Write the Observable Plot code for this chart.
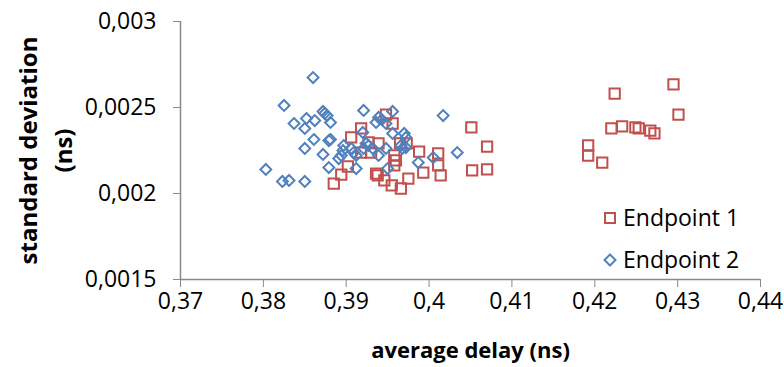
<!DOCTYPE html>
<html><head><meta charset="utf-8">
<script src="https://cdn.jsdelivr.net/npm/d3@7"></script>
<script src="https://cdn.jsdelivr.net/npm/@observablehq/plot@0.6"></script>
<style>
body{margin:0;background:#fff;}
#wrap{position:relative;width:784px;height:367px;font-family:"Open Sans",sans-serif;}
.leg{position:absolute;left:603px;height:30px;line-height:30px;font-size:23px;color:#000;white-space:nowrap;}
.leg svg{vertical-align:middle;margin-right:6px;position:relative;top:-2px;}
</style></head><body><div id="wrap"></div>
<script>
const seriesNames = ["Endpoint 1", "Endpoint 2"];
const ep1X = [0.3885,0.3894,0.3902,0.3906,0.3918,0.3927,0.3939,0.3918,0.3930,0.3948,0.3956,0.3965,0.3973,0.3958,0.3960,0.3958,0.3988,0.4011,0.3936,0.3938,0.3946,0.3955,0.3966,0.3975,0.3993,0.4014,0.4011,0.4051,0.4070,0.4052,0.4070,0.4192,0.4192,0.4209,0.4220,0.4224,0.4233,0.4249,0.4253,0.4267,0.4272,0.4295,0.4301];
const ep1Y = [0.002058,0.00211,0.002157,0.002326,0.002378,0.002297,0.002291,0.002238,0.002238,0.002459,0.002407,0.002291,0.002291,0.002221,0.002192,0.002163,0.002244,0.002233,0.002116,0.002105,0.002076,0.002047,0.002029,0.002087,0.002122,0.002105,0.002163,0.002384,0.002273,0.002134,0.00214,0.002279,0.002221,0.00218,0.002378,0.002581,0.00239,0.002384,0.002378,0.002366,0.002349,0.002634,0.002459];
const ep2X = [0.3803,0.3823,0.3831,0.3850,0.3825,0.3860,0.3837,0.3850,0.3852,0.3862,0.3872,0.3874,0.3877,0.3881,0.3861,0.3879,0.3881,0.3850,0.3872,0.3879,0.3897,0.3896,0.3894,0.3891,0.3906,0.3909,0.3912,0.3912,0.3920,0.3921,0.3921,0.3924,0.3927,0.3932,0.3936,0.3939,0.3943,0.3948,0.3939,0.3948,0.3950,0.3956,0.3956,0.3970,0.3972,0.3966,0.3968,0.3972,0.3987,0.4005,0.4017,0.4034];
const ep2Y = [0.00214,0.00207,0.002076,0.00207,0.002512,0.002674,0.002407,0.002378,0.002436,0.002424,0.002477,0.002465,0.002453,0.002413,0.002314,0.002308,0.002314,0.002262,0.002227,0.002151,0.002279,0.00225,0.002221,0.002203,0.002262,0.002238,0.002221,0.002145,0.002355,0.002483,0.002262,0.002291,0.002279,0.002262,0.002413,0.002442,0.00243,0.002407,0.002221,0.002262,0.002145,0.002477,0.002349,0.002349,0.002326,0.002279,0.002262,0.002267,0.00218,0.002209,0.002453,0.002238];
const xTicks = [0.37,0.38,0.39,0.40,0.41,0.42,0.43,0.44];
const yTicks = [0.0015,0.002,0.0025,0.003];
const xTitle = "average delay (ns)";
const yTitle = "standard deviation\n(ns)";
const colors = ["#C0504D", "#4F81BD"];

const fmt = d => String(+d.toFixed(5)).replace(".", ",");
const ep1 = ep1X.map((x, i) => ({x, y: ep1Y[i]}));
const ep2 = ep2X.map((x, i) => ({x, y: ep2Y[i]}));
const axisGray = "#898989";

const chart = Plot.plot({
  width: 784, height: 367,
  marginLeft: 180, marginRight: 24, marginTop: 21, marginBottom: 88,
  x: {domain: [0.37, 0.44]},
  y: {domain: [0.0015, 0.003]},
  style: {fontFamily: "Open Sans", fontSize: "23px", color: "#000", background: "#fff", overflow: "visible"},
  marks: [
    Plot.axisY({ticks: yTicks, tickFormat: fmt, tickSize: 7, tickPadding: 17, stroke: axisGray, fill: "#000", label: null}),
    Plot.axisX({ticks: xTicks, tickFormat: fmt, tickSize: 8, tickPadding: 5, stroke: axisGray, fill: "#000", label: null}),
    Plot.ruleY([0.0015], {stroke: axisGray, strokeWidth: 1.5}),
    Plot.ruleX([0.37], {stroke: axisGray, strokeWidth: 1.5}),
    Plot.dot(ep1, {x: "x", y: "y", symbol: "square", r: 5.8, stroke: colors[0], strokeWidth: 2, fill: "none"}),
    Plot.dot(ep2, {x: "x", y: "y", symbol: "diamond2", r: 4.9, stroke: colors[1], strokeWidth: 2, fill: "none"}),
    Plot.text([xTitle], {frameAnchor: "bottom", textAnchor: "middle", dy: 71, lineAnchor: "middle", fontWeight: "bold", fontSize: 22}),
    Plot.text([yTitle], {frameAnchor: "left", textAnchor: "middle", rotate: -90, dx: -137, lineAnchor: "middle", lineHeight: 1.45, fontWeight: "bold", fontSize: 24})
  ]
});
const wrap = document.getElementById("wrap");
wrap.appendChild(chart);

const legendTops = [202, 244];
const symbolsSvg = [
  `<svg width="14" height="14"><rect x="2" y="2" width="10" height="10" fill="none" stroke="${colors[0]}" stroke-width="2"/></svg>`,
  `<svg width="14" height="14"><path d="M7,1.5L12.5,7L7,12.5L1.5,7Z" fill="none" stroke="${colors[1]}" stroke-width="2"/></svg>`
];
seriesNames.forEach((name, i) => {
  const d = document.createElement("div");
  d.className = "leg";
  d.style.top = legendTops[i] + "px";
  d.innerHTML = symbolsSvg[i] + "<span>" + name + "</span>";
  wrap.appendChild(d);
});
</script>
</body></html>
